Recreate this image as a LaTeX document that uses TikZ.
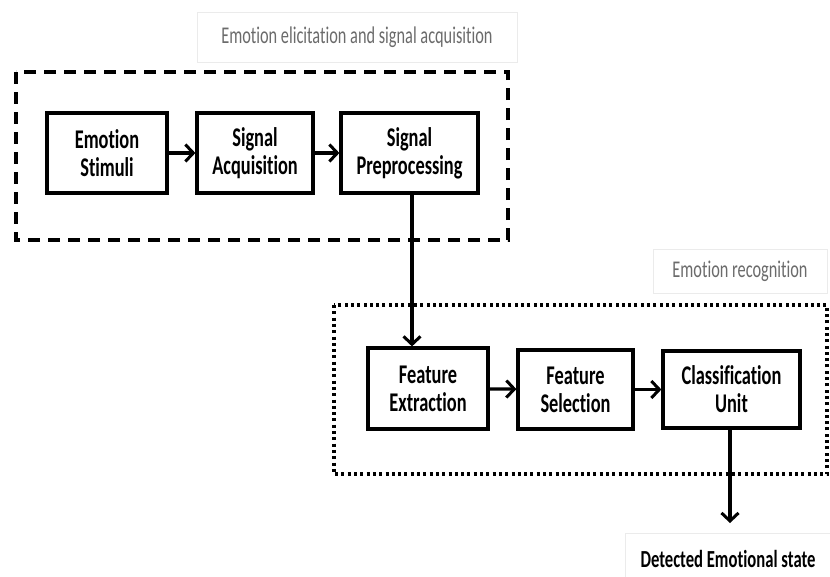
\documentclass[tikz,border=0pt]{standalone}
\usepackage{fontspec}
\setmainfont{Carlito}[FakeStretch=0.68,Ligatures=NoCommon]
\usetikzlibrary{arrows.meta}

\begin{document}
\begin{tikzpicture}[x=1pt,y=-1pt,line width=3pt]
   \useasboundingbox (0,0) rectangle (830,576);
   \tikzstyle{block}=[draw=black, line width=3.2pt, minimum height=80pt, align=center,
      inner sep=0pt, font=\fontsize{27}{28}\selectfont\bfseries]
   \tikzstyle{tag}=[draw=black!8, line width=1pt, inner sep=0pt, text=black!58,
      font=\fontsize{24}{26}\selectfont]
   \tikzstyle{arr}=[-{Straight Barb[length=8pt,width=17pt,line width=3pt]}, line width=3.2pt]
   % acquisition stage
   \draw[line width=3.2pt, dash pattern=on 12pt off 8pt] (16,72) rectangle (508,240);
   \node[tag, minimum width=320pt, minimum height=50pt] (elic) at (357,37)
      {Emotion elicitation and signal acquisition};
   \node[block, minimum width=120pt] (stimuli) at (107,153) {Emotion\\Stimuli};
   \node[block, minimum width=116pt] (acquisition) at (255,153) {Signal\\Acquisition};
   \node[block, minimum width=137pt] (preproc) at (409.5,153) {Signal\\Preprocessing};
   \draw[arr] (stimuli) -- (acquisition);
   \draw[arr] (acquisition) -- (preproc);
   % recognition stage
   \draw[line width=4pt, dash pattern=on 3pt off 3.3pt] (334,305) rectangle (827,474);
   \node[tag, minimum width=174pt, minimum height=44pt] (recog) at (740,271)
      {Emotion recognition};
   \node[block, minimum width=120pt, minimum height=81pt] (extraction) at (428,388.5) {Feature\\Extraction};
   \node[block, minimum width=115pt, minimum height=79pt] (selection) at (575.5,389.5) {Feature\\Selection};
   \node[block, minimum width=137pt, minimum height=77pt] (classify) at (731.5,389.5) {Classification\\Unit};
   \draw[arr] (extraction) -- (selection);
   \draw[arr] (selection) -- (classify);
   \draw[arr] ([xshift=2.5pt]preproc.south) -- ([xshift=2.5pt]preproc.south |- extraction.north);
   % output
   \node[tag, text=black, font=\fontsize{24.5}{26}\selectfont\bfseries, anchor=north west,
      minimum width=205pt, minimum height=50pt] (state) at (625,533) {Detected Emotional state};
   \draw[arr, shorten >=10pt] ([xshift=-1.5pt]classify.south) -- ([xshift=-1.5pt]classify.south |- state.north);
\end{tikzpicture}
\end{document}
